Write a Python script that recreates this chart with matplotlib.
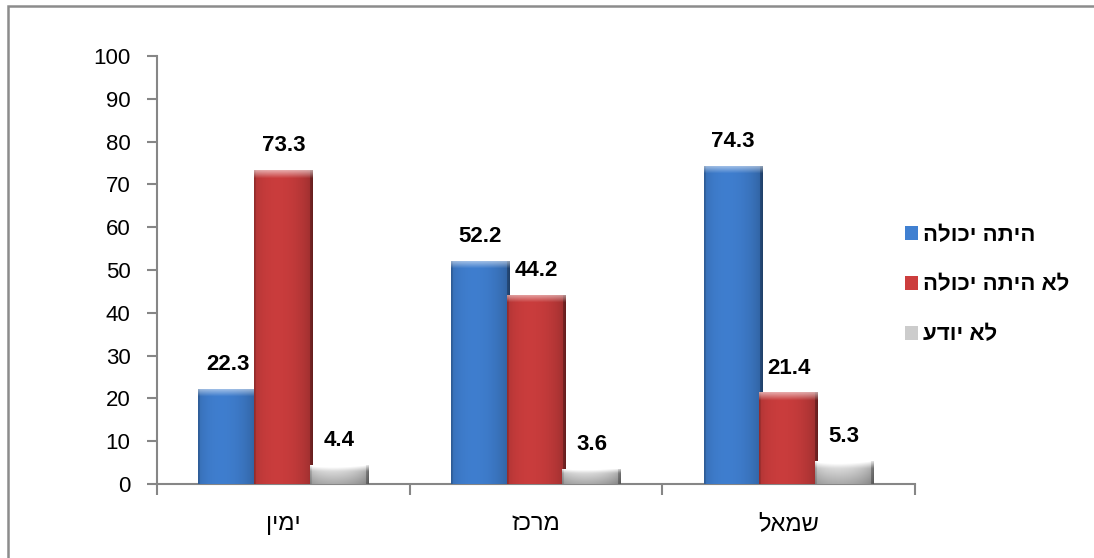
import numpy as np
import matplotlib
matplotlib.use('Agg')
import matplotlib.pyplot as plt
from matplotlib.patches import Patch, Rectangle

# data (Hebrew strings in logical order, reversed only for drawing)
categories = ['ימין', 'מרכז', 'שמאל']
series_names = ['היתה יכולה', 'לא היתה יכולה', 'לא יודע']
could = [22.3, 52.2, 74.3]
could_not = [73.3, 44.2, 21.4]
dont_know = [4.4, 3.6, 5.3]
yticks = [0, 10, 20, 30, 40, 50, 60, 70, 80, 90, 100]

values = [could, could_not, dont_know]
colors = [(0.25, 0.50, 0.82), (0.80, 0.24, 0.24), (0.80, 0.80, 0.80)]
FONT = ['Liberation Sans', 'DejaVu Sans']


def vis(s):
    # matplotlib has no bidi support, so flip RTL text for display
    return s[::-1]


def shade(ax, bar, base, px_per_unit):
    x, w, h = bar.get_x(), bar.get_width(), bar.get_height()
    nrow = max(int(h * px_per_unit), 4)
    ncol = 60
    u = np.linspace(0, 1, ncol)
    prof = 0.82 + 0.22 * np.sin(np.pi * u) ** 0.5 - 0.12 * u
    prof[:2] *= 0.88
    prof[-3:] *= 0.72
    img = np.ones((nrow, ncol, 3)) * np.array(base)
    img = img * prof[None, :, None]
    bev = min(8, max(nrow // 3, 2))
    t = np.ones(nrow)
    t[:bev] = np.linspace(0.55, 0.05, bev)
    t[bev:] = 0
    img = img * (1 - t[:, None, None]) + t[:, None, None]
    if base[0] == base[1]:
        # grey bar: whitish top, darker bottom
        v = np.linspace(1.18, 0.85, nrow)
        img = img * v[:, None, None]
    img = np.clip(img, 0, 1)
    im = ax.imshow(img, extent=(x, x + w, 0, h), origin='upper',
                   aspect='auto', zorder=3, interpolation='bilinear')
    im.set_clip_path(bar)


fig = plt.figure(figsize=(10.94, 5.58), dpi=100)
ax = fig.add_axes([157 / 1094, 1 - 484 / 558, (915 - 157) / 1094, (484 - 56) / 558])

x = np.arange(len(categories))
offsets = [-0.22, 0.0, 0.22]
width = 0.232
px_per_unit = (484 - 56) / 100

for vals, off, col in zip(values, offsets, colors):
    bars = ax.bar(x + off, vals, width, color=col, edgecolor='none', zorder=2)
    for b, v in zip(bars, vals):
        shade(ax, b, col, px_per_unit)
        ax.annotate(f'{v}', (b.get_x() + b.get_width() / 2, v),
                    xytext=(0, 10), textcoords='offset points',
                    ha='center', va='bottom', fontsize=16,
                    fontweight='bold', family=FONT)

ax.set_xlim(-0.5, 2.5)
ax.set_ylim(0, 100)
ax.set_yticks(yticks)
ax.set_yticklabels([str(t) for t in yticks], fontsize=16, family=FONT)
ax.set_xticks(x)
ax.set_xticklabels([vis(c) for c in categories], fontsize=17, family=FONT)
ax.set_xticks([-0.5, 0.5, 1.5, 2.5], minor=True)
ax.tick_params(axis='x', which='major', length=0, pad=21)
ax.tick_params(axis='x', which='minor', length=8, color='#868686', width=1.5)
ax.tick_params(axis='y', length=7, color='#868686', width=1.5, pad=12)

for s in ['top', 'right']:
    ax.spines[s].set_visible(False)
for s in ['left', 'bottom']:
    ax.spines[s].set_color('#868686')
    ax.spines[s].set_linewidth(1.5)

handles = [Patch(facecolor=c, edgecolor='none') for c in colors]
leg = fig.legend(handles, [vis(n) for n in series_names],
                 loc='center left', bbox_to_anchor=(885 / 1094, 1 - 285 / 558),
                 frameon=False, handlelength=0.6, handleheight=0.6,
                 handletextpad=0.2, labelspacing=1.3,
                 prop={'family': FONT, 'weight': 'bold', 'size': 16})

# outer chart frame (only top and left edges visible)
fig.add_artist(Rectangle((8 / 1094, -0.1), 2, 1 - 6 / 558 + 0.1,
                         transform=fig.transFigure, fill=False,
                         edgecolor='#8c8c8c', linewidth=1.8))

fig.savefig('out.png', dpi=100)
